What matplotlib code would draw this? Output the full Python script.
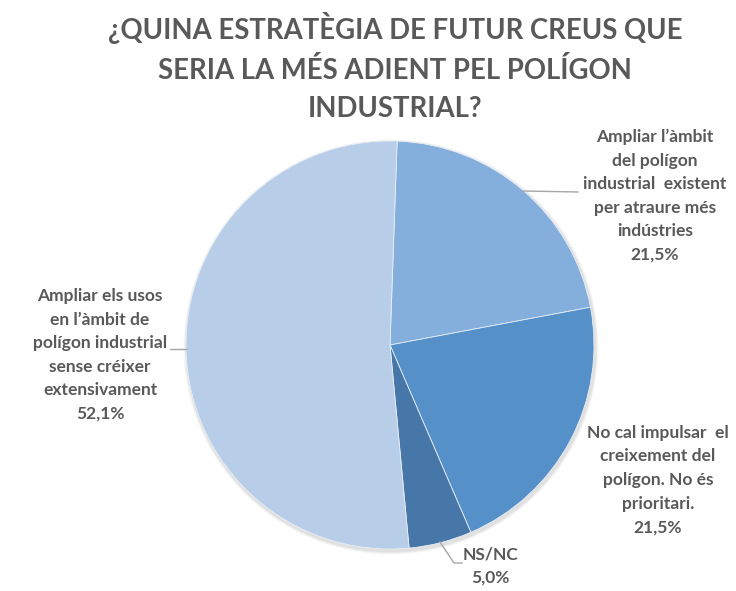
import matplotlib
matplotlib.use("Agg")
import matplotlib.pyplot as plt

title = "¿QUINA ESTRATÈGIA DE FUTUR CREUS QUE\nSERIA LA MÉS ADIENT PEL POLÍGON\nINDUSTRIAL?"
categories = [
    "Ampliar l’àmbit\ndel polígon\nindustrial  existent\nper atraure més\nindústries",
    "No cal impulsar  el\ncreixement del\npolígon. No és\nprioritari.",
    "NS/NC",
    "Ampliar els usos\nen l’àmbit de\npolígon industrial\nsense créixer\nextensivament",
]
values = [21.5, 21.5, 5.0, 52.1]
value_labels = ["21,5%", "21,5%", "5,0%", "52,1%"]
colors = ["#84AEDC", "#5590C8", "#4677A8", "#B8CDE7"]

W, H = 736, 591
fig = plt.figure(figsize=(W / 100, H / 100), dpi=100)
ax = fig.add_axes([0, 0, 1, 1])
ax.set_xlim(0, W)
ax.set_ylim(0, H)
ax.set_aspect("equal")
ax.axis("off")

cx, cy, r = 390, H - 345, 204
# soft shadow
for i, a in enumerate([0.05, 0.04, 0.03]):
    ax.add_patch(plt.Circle((cx + 1, cy - 2), r + 1.5 + i, color="black", alpha=a, zorder=0, lw=0))

ax.pie(values, colors=colors, startangle=88, counterclock=False,
       center=(cx, cy), radius=r, frame=True,
       wedgeprops=dict(edgecolor="#E8EEF6", linewidth=0.6))
ax.set_xlim(0, W)
ax.set_ylim(0, H)
ax.axis("off")

tc = "#595959"
font = "Lato"
ax.text(395, H - 67, title, ha="center", va="center", fontsize=19.8,
        fontweight="bold", color=tc, family=font, linespacing=1.57)

label_pos = [(655, 196), (658, 480), (490, 566), (100, 355)]
for (x, y), c, v in zip(label_pos, categories, value_labels):
    ax.text(x, H - y, c + "\n" + v, ha="center", va="center", fontsize=12.5,
            fontweight="bold", color=tc, family=font, linespacing=1.58)

lc = "#A6A6A6"
ax.plot([523, 578], [H - 191, H - 192], color=lc, lw=1)
ax.plot([170, 186], [H - 349, H - 349], color=lc, lw=1)
ax.plot([440, 454, 462], [H - 542, H - 563, H - 563], color=lc, lw=1)

fig.savefig("out.png", dpi=100, facecolor="white")
